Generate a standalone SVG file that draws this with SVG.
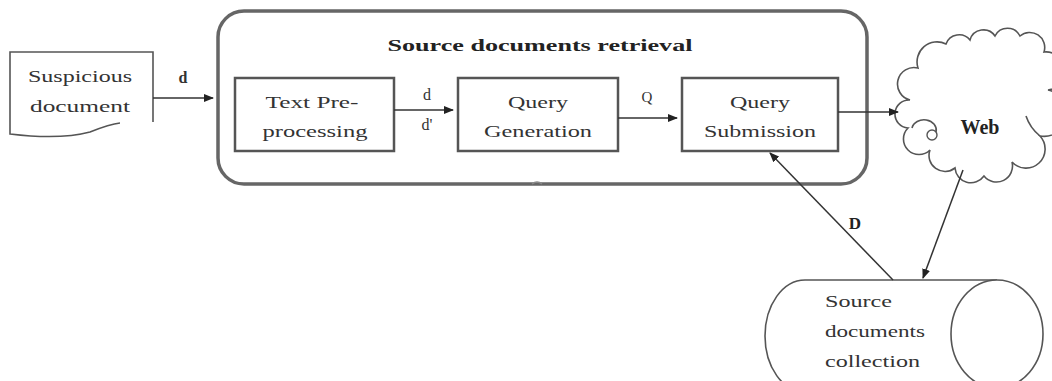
<svg xmlns="http://www.w3.org/2000/svg" width="1052" height="381" viewBox="0 0 1052 381">
<style>
.box{fill:#fff;stroke:#555;stroke-width:2.5}
.ln{fill:none;stroke:#333;stroke-width:1.5}
.t{font-family:"Liberation Serif",serif;font-size:16px;fill:#333}
.tb{font-family:"Liberation Serif",serif;font-size:17px;font-weight:bold;fill:#222}
.sh{fill:#fff;stroke:#555;stroke-width:1.6}
</style>
<defs>
<marker id="ah" markerWidth="10" markerHeight="8" refX="9" refY="4" orient="auto" markerUnits="userSpaceOnUse">
<path d="M0,0 L10,4 L0,8 Z" fill="#222"/>
</marker>
</defs>
<rect width="1052" height="381" fill="#fff"/>

<g id="suspicious">
<path class="sh" d="M153,122 L153,52 L10,52 L10,134 Q60,140 90,132 Q110,124 120,123"/>
<text class="t" x="80" y="82" text-anchor="middle" textLength="104" lengthAdjust="spacingAndGlyphs">Suspicious</text>
<text class="t" x="80" y="112" text-anchor="middle" textLength="100" lengthAdjust="spacingAndGlyphs">document</text>
</g>

<g id="retrieval">
<rect x="218" y="11" width="649" height="173" rx="26" ry="26" fill="#fff" stroke="#666" stroke-width="3.5"/>
<text class="tb" x="540" y="51" text-anchor="middle" textLength="305" lengthAdjust="spacingAndGlyphs">Source documents retrieval</text>
<path d="M532,184 Q537,180 542,184" fill="none" stroke="#888" stroke-width="1.5"/>
</g>

<g id="textpre">
<rect class="box" x="235" y="78" width="159" height="73"/>
<text class="t" x="312" y="108" text-anchor="middle" textLength="93" lengthAdjust="spacingAndGlyphs">Text Pre-</text>
<text class="t" x="315" y="137" text-anchor="middle" textLength="105" lengthAdjust="spacingAndGlyphs">processing</text>
</g>

<g id="querygen">
<rect class="box" x="458" y="78" width="160" height="73"/>
<text class="t" x="538" y="108" text-anchor="middle" textLength="60" lengthAdjust="spacingAndGlyphs">Query</text>
<text class="t" x="538" y="137" text-anchor="middle" textLength="108" lengthAdjust="spacingAndGlyphs">Generation</text>
</g>

<g id="querysub">
<rect class="box" x="682" y="78" width="156" height="73"/>
<text class="t" x="760" y="108" text-anchor="middle" textLength="60" lengthAdjust="spacingAndGlyphs">Query</text>
<text class="t" x="760" y="137" text-anchor="middle" textLength="112" lengthAdjust="spacingAndGlyphs">Submission</text>
</g>

<g id="web">
<path class="sh" d="M910,100 A13 13 0 0 1 918,68 A20 20 0 0 1 946,44 A14 14 0 0 1 970,40 A14 14 0 0 1 995,36 A14 14 0 0 1 1020,36 A15 15 0 0 1 1044,52 A18 18 0 0 1 1048,90 A20 20 0 0 1 1040,136 A16 16 0 0 1 1012,162 A16 16 0 0 1 984,176 A16 16 0 0 1 955,168 A16 16 0 0 1 930,150 A13 13 0 0 1 908,128 A14 14 0 0 1 910,100 Z"/>
<path d="M1040,136 Q1030,128 1026,116" fill="none" stroke="#555" stroke-width="1.6"/>
<path d="M912,128 A12 10 0 0 1 936,132" fill="none" stroke="#555" stroke-width="1.6"/>
<circle cx="932" cy="135" r="5" fill="#fff" stroke="#555" stroke-width="1.4"/>
<text class="tb" x="980" y="134" text-anchor="middle" style="font-size:20px">Web</text>
</g>

<g id="collection">
<path class="sh" d="M997,280 L805,280 A40 56 0 0 0 805,392 L997,392"/>
<ellipse cx="997" cy="334" rx="46" ry="54" fill="#fff" stroke="#555" stroke-width="1.6"/>
<text class="t" x="825" y="307" textLength="67" lengthAdjust="spacingAndGlyphs">Source</text>
<text class="t" x="825" y="337" textLength="100" lengthAdjust="spacingAndGlyphs">documents</text>
<text class="t" x="825" y="367" textLength="95" lengthAdjust="spacingAndGlyphs">collection</text>
</g>

<g id="connectors">
<line class="ln" x1="153" y1="98" x2="213" y2="98" marker-end="url(#ah)"/>
<text class="t" x="183" y="83" text-anchor="middle" font-weight="bold">d</text>
<line class="ln" x1="394" y1="110" x2="453" y2="110" marker-end="url(#ah)"/>
<text class="t" x="427" y="100" text-anchor="middle">d</text>
<text class="t" x="427" y="130" text-anchor="middle">d'</text>
<line class="ln" x1="618" y1="118" x2="677" y2="118" marker-end="url(#ah)"/>
<text class="t" x="647" y="102" text-anchor="middle" style="font-size:15px">Q</text>
<line class="ln" x1="838" y1="112" x2="898" y2="112" marker-end="url(#ah)"/>
<line class="ln" x1="893" y1="280" x2="770" y2="153" marker-end="url(#ah)"/>
<text class="tb" x="855" y="229" text-anchor="middle">D</text>
<line class="ln" x1="963" y1="170" x2="923" y2="278" marker-end="url(#ah)"/>
</g>
</svg>
